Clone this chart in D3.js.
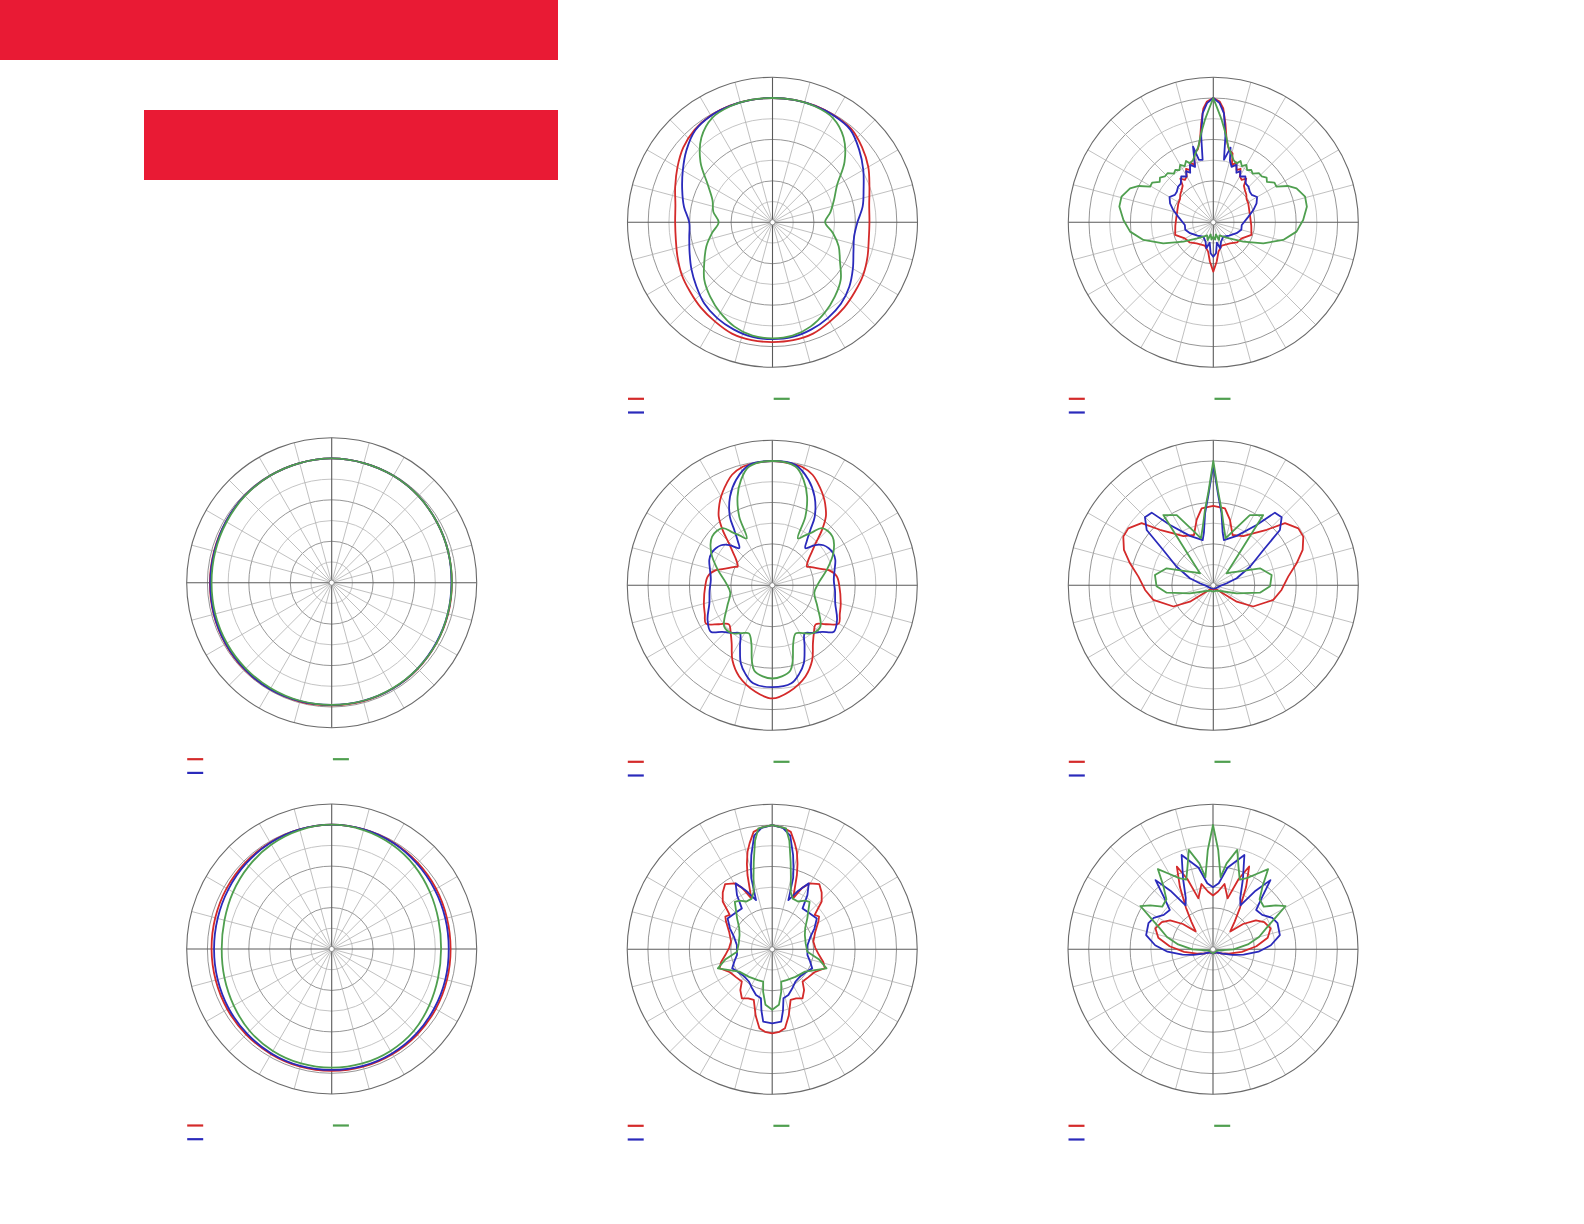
<!DOCTYPE html>
<html>
<head>
<meta charset="utf-8">
<script src="https://cdn.jsdelivr.net/npm/d3@7/dist/d3.min.js"></script>
<style>
  body { margin: 0; background: #fff; }
</style>
</head>
<body>
<div id="chart"></div>
<script>
// polar pattern values: [angle in degrees clockwise from top, level in dB]
var aRed = [[0,0],[10,0],[20,0],[30,-0.2],[40,-0.5],[50,-1.8],[60,-3.3],[70,-5.1],[80,-6.3],[90,-6.6],[100,-6.4],[110,-5.6],[120,-4.7],[130,-4.0],[140,-3.1],[150,-2.3],[160,-1.4],[170,-1.1],[180,-1.1],[190,-1.1],[200,-1.4],[210,-2.3],[220,-3.1],[230,-4.0],[240,-4.7],[250,-5.6],[260,-6.3],[270,-6.5],[280,-6.2],[290,-5.0],[300,-3.5],[310,-1.9],[320,-0.8],[330,-0.2],[340,0],[350,0]];
var aBlue = [[0,0],[10,0],[20,-0.1],[30,-0.3],[40,-0.8],[50,-2.7],[60,-4.7],[70,-6.6],[80,-7.9],[90,-9.5],[100,-10],[110,-9.2],[120,-7.6],[130,-5.8],[140,-4.3],[150,-3.3],[160,-2.5],[170,-1.9],[180,-1.8],[190,-1.9],[200,-2.5],[210,-3.3],[220,-4.4],[230,-6.0],[240,-7.4],[250,-8.7],[260,-9.6],[270,-9.9],[280,-8.3],[290,-6.8],[300,-5.0],[310,-2.9],[320,-1.0],[330,-0.3],[340,-0.1],[350,0]];
var aGreen = [[0,0],[10,0],[20,-0.2],[30,-0.9],[40,-3.3],[50,-7.3],[60,-12],[70,-14.2],[80,-15.8],[90,-17.3],[100,-15.2],[110,-13],[120,-11.2],[130,-8.5],[140,-6.6],[150,-4.8],[160,-3.2],[170,-2.2],[180,-2.0],[190,-2.2],[200,-3.2],[210,-4.8],[220,-6.6],[230,-8.5],[240,-11],[250,-13],[260,-15.2],[270,-17],[280,-15.5],[290,-14.6],[300,-12],[310,-7.3],[320,-3.3],[330,-0.9],[340,-0.2],[350,0]];

var bRed = [[0,0],[3,-0.8],[5,-2.4],[7,-6],[9.2,-9.9],[12,-12.0],[15.6,-12.7],[18,-15.5],[21,-14.5],[24,-16.2],[27,-15.5],[30,-17.2],[33.8,-17.7],[37,-16.8],[40,-18.5],[44.4,-19.1],[50,-19.6],[55,-20.2],[61.5,-20.4],[70,-20.8],[81.2,-21],[95,-20.8],[108.3,-20.3],[119.5,-22.1],[130,-22.5],[141.6,-23.5],[160,-24],[170,-22.8],[175,-20.5],[180,-18.1],
  [185,-20.5],[190,-22.8],[200,-24],[218.4,-23.5],[230,-22.5],[240.5,-22.1],[251.7,-20.3],[265,-20.8],[278.8,-21],[290,-20.8],[298.5,-20.4],[305,-20.2],[310,-19.6],[315.6,-19.1],[320,-18.5],[323,-16.8],[326.2,-17.7],[330,-17.2],[333,-15.5],[336,-16.2],[339,-14.5],[342,-15.5],[344.4,-12.7],[348,-12.0],[350.8,-9.9],[353,-6],[355,-2.4],[357,-0.8]];
var bBlue = [[0,0],[3,-1.2],[5.6,-3.6],[8,-9],[9.7,-14.7],[13,-11.5],[15,-14.5],[18.2,-15.9],[22,-15],[25,-16.8],[28,-16.0],[30.3,-17.2],[35,-16.5],[40,-17.8],[44.5,-17.9],[50,-18.5],[54.5,-18.6],[60,-17.8],[66.3,-18.6],[73,-19.9],[80.8,-21.4],[95.4,-23.1],[105,-23.0],[115,-23.8],[130,-25],[145,-25.8],[158,-25],[165,-23.5],[170,-25],[175,-22.5],[180,-21.7],
  [185,-22.5],[190,-25],[195,-23.5],[202,-25],[215,-25.8],[230,-25],[245,-23.8],[255,-23.0],[264.6,-23.1],[279.2,-21.4],[287,-19.9],[293.7,-18.6],[300,-17.8],[305.5,-18.6],[310,-18.5],[315.5,-17.9],[320,-17.8],[325,-16.5],[329.7,-17.2],[332,-16.0],[335,-16.8],[338,-15],[341.8,-15.9],[345,-11.1],[347,-14.5],[350.3,-14.7],[352,-9],[354.4,-3.6],[357,-1.2]];
var bGreen = [[0,0],[2.5,-3],[4.7,-5.2],[8,-8.5],[11.2,-11.4],[15,-13],[18,-14.2],[21.6,-14.7],[24,-13.8],[27,-14.8],[30,-14.0],[33,-15.0],[36,-14.4],[39,-14.9],[43,-13.8],[46.6,-13.9],[50,-13.2],[53,-13.8],[57,-12.4],[60.6,-12.5],[64,-10],[67.8,-8.3],[74.4,-7.0],[80.5,-7.1],[88.5,-8.3],[96.4,-9.8],[104.2,-12.6],[112.8,-16.9],[122.8,-21.4],[135,-24.5],[145,-25.8],[155,-26.5],[162,-25.5],[168,-27],[174,-25.8],[180,-26.5],
  [186,-25.8],[192,-27],[198,-25.5],[205,-26.5],[215,-25.8],[225,-24.5],[237.2,-21.4],[247.2,-16.9],[255.8,-12.6],[263.6,-9.8],[271.5,-8.3],[279.5,-7.0],[285.6,-7.0],[292.2,-8.3],[296,-10],[299.4,-12.5],[303,-12.4],[307,-13.8],[310,-13.2],[313.4,-13.9],[317,-13.8],[321,-14.9],[324,-14.4],[327,-15.0],[330,-14.0],[333,-14.8],[336,-13.8],[338.4,-14.7],[342,-14.2],[345,-13],[348.8,-11.4],[352,-8.5],[355.3,-5.2],[357.5,-3]];

var cRed = [[0,0],[15,-0.1],[30,-0.2],[45,-0.4],[60,-0.7],[75,-0.9],[90,-1.0],[105,-0.9],[120,-0.8],[135,-0.6],[150,-0.5],[165,-0.4],[180,-0.4],[195,-0.3],[210,-0.3],[225,-0.3],[240,-0.4],[255,-0.5],[270,-0.6],[285,-0.6],[300,-0.5],[315,-0.3],[330,-0.2],[345,-0.1]];
var cBlue = [[0,0],[15,-0.1],[30,-0.2],[45,-0.4],[60,-0.7],[75,-0.9],[90,-1.1],[105,-1.0],[120,-0.9],[135,-0.7],[150,-0.5],[165,-0.5],[180,-0.5],[195,-0.4],[210,-0.3],[225,-0.4],[240,-0.5],[255,-0.6],[270,-0.7],[285,-0.7],[300,-0.5],[315,-0.3],[330,-0.2],[345,-0.1]];
var cGreen = [[0,0],[15,-0.1],[30,-0.2],[45,-0.4],[60,-0.7],[75,-0.9],[90,-1.0],[105,-1.0],[120,-0.8],[135,-0.7],[150,-0.6],[165,-0.5],[180,-0.5],[195,-0.5],[210,-0.6],[225,-0.7],[240,-0.8],[255,-0.9],[270,-1.0],[285,-0.9],[300,-0.7],[315,-0.4],[330,-0.2],[345,-0.1]];

var dRed = [[0,0],[15,-0.1],[30,-0.3],[45,-0.6],[60,-0.9],[75,-1.2],[90,-1.3],[105,-1.2],[120,-1.0],[135,-0.8],[150,-0.7],[165,-0.6],[180,-0.6],[195,-0.6],[210,-0.7],[225,-0.8],[240,-0.9],[255,-1.0],[270,-1.0],[285,-0.9],[300,-0.7],[315,-0.5],[330,-0.3],[345,-0.1]];
var dBlue = [[0,0],[15,-0.1],[30,-0.4],[45,-0.9],[60,-1.3],[75,-1.6],[90,-1.75],[105,-1.6],[120,-1.4],[135,-1.1],[150,-0.9],[165,-0.8],[180,-0.8],[195,-0.8],[210,-0.9],[225,-1.1],[240,-1.3],[255,-1.5],[270,-1.6],[285,-1.5],[300,-1.2],[315,-0.8],[330,-0.4],[345,-0.1]];
var dGreen = [[0,0],[15,-0.3],[30,-0.9],[45,-1.7],[60,-2.6],[75,-3.3],[90,-3.6],[105,-3.4],[120,-2.8],[135,-2.0],[150,-1.6],[165,-1.4],[180,-1.35],[195,-1.4],[210,-1.6],[225,-2.0],[240,-2.7],[255,-3.2],[270,-3.45],[285,-3.2],[300,-2.5],[315,-1.7],[330,-0.9],[345,-0.3]];

var eRed = [[0,0],[10,-0.3],[14,-0.5],[20,-1.6],[24,-3.0],[28,-4.5],[31.5,-5.9],[35,-7.5],[38,-9.0],[42,-12.1],[46,-15.5],[50,-17.6],[55,-19.4],[61.7,-20.5],[64,-19.9],[68,-18.8],[72,-17.3],[75,-15.9],[82,-14.3],[91,-13.8],[105,-12.9],[113,-12.3],[120,-11.5],[126,-14.0],[132,-15.9],[139,-14.7],[145,-12.9],[152,-9.5],[160,-6.6],[171,-4.0],[180,-2.7],
  [189,-4.0],[200,-6.6],[208,-9.5],[215,-12.9],[221,-14.7],[228,-15.9],[234,-14.0],[240,-11.5],[247,-12.3],[255,-12.9],[269,-13.8],[278,-14.3],[285,-15.9],[288,-17.3],[292,-18.8],[296,-19.9],[298.3,-20.5],[305,-19.4],[310,-17.6],[314,-15.5],[318,-12.1],[322,-9.0],[325,-7.5],[328.5,-5.9],[332,-4.5],[336,-3.0],[340,-1.6],[346,-0.5],[350,-0.3]];
var eBlue = [[0,0],[10.8,-0.4],[19,-3.1],[25.5,-6.3],[31.7,-10.5],[34.5,-13.8],[38,-16.5],[41.7,-18.0],[46.8,-15.8],[52,-14.3],[56.7,-13.7],[62,-13.4],[68,-13.6],[76,-14.5],[85,-15.1],[95,-14.8],[106,-14.2],[118,-12.3],[127,-11.4],[133,-13.5],[140,-15.0],[146,-16.0],[152,-13.4],[158,-9.7],[163,-7.7],[169,-5.9],[180,-5.4],
  [191,-5.9],[197,-7.7],[202,-9.7],[208,-13.4],[214,-16.0],[220,-15.0],[227,-13.5],[233,-11.4],[242,-12.3],[254,-14.2],[265,-14.8],[275,-15.1],[284,-14.5],[292,-13.6],[298,-13.4],[303.3,-13.7],[308,-14.3],[313.2,-15.8],[318.3,-18.0],[322,-16.5],[325.5,-13.8],[328.3,-10.5],[334.5,-6.3],[341,-3.1],[349.2,-0.4]];
var eGreen = [[0,0],[11,-0.8],[16.6,-3.5],[21.4,-7.0],[25.7,-11.6],[28.6,-17.1],[33,-15.7],[37,-14.0],[41,-11.7],[51,-11.3],[62,-13.3],[74,-16.3],[87,-18.8],[100,-19.7],[115,-18],[130.7,-14.7],[140,-14.9],[147,-16.2],[154,-17.1],[160,-15.2],[165,-11.0],[168,-9.0],[174,-7.9],[180,-7.5],
  [186,-7.9],[192,-9.0],[195,-11.0],[200,-15.2],[206,-17.1],[213,-16.2],[220,-14.9],[229.3,-14.7],[245,-18],[260,-19.7],[273,-18.8],[286,-16.3],[298,-13.3],[309,-11.3],[319,-11.7],[323,-14.0],[327,-15.7],[331.4,-17.1],[334.3,-11.6],[338.6,-7.0],[343.4,-3.5],[349,-0.8]];

var fRed = [[0,-10.8],[8.6,-11.2],[14.3,-13.7],[21,-17],[31.3,-16.1],[37.6,-14.2],[43.9,-11.4],[49.1,-7.1],[56.2,-5.3],[61.6,-5.3],[68.4,-6.8],[75.2,-9.2],[83.4,-11.8],[93.9,-13.5],[103.7,-15.1],[118,-19.1],[125,-23.1],[133.5,-27.8],[150,-29],[180,-29],
  [210,-29],[226.5,-27.8],[235,-23.1],[242,-19.1],[256.3,-15.1],[266.1,-13.5],[276.6,-11.8],[284.8,-9.2],[291.6,-6.8],[298.4,-5.3],[303.8,-5.3],[310.9,-7.1],[316.1,-11.4],[322.4,-14.2],[328.7,-16.1],[339,-17],[345.7,-13.7],[351.4,-11.2]];
var fBlue = [[0,-1],[3,-8],[6.5,-12.5],[10,-17],[13.2,-18.8],[25.3,-16.8],[35.7,-12.1],[40.3,-7.0],[45.1,-6.7],[50.3,-9.1],[54.8,-15.2],[63,-20],[73.3,-24.1],[81.5,-26.7],[95,-28.3],[130,-29],[180,-29.2],
  [230,-29],[265,-28.3],[278.5,-26.7],[286.7,-24.1],[297,-20],[305.2,-15.2],[309.7,-9.1],[314.9,-6.7],[319.7,-7.0],[324.3,-12.1],[334.7,-16.8],[346.8,-18.8],[350,-17],[353.5,-12.5],[357,-8]];
var fGreen = [[0,0],[3,-7.4],[6.3,-11.7],[10,-15.5],[14.7,-18.3],[20,-16.1],[27.5,-10.9],[35.4,-9.2],[37,-16],[40,-21.3],[44,-24.2],[48,-25.7],[55,-24.6],[62,-22.8],[70,-18],[80,-15.7],[91,-16.3],[99,-18.6],[109,-24],[125,-27.5],[150,-28.5],[180,-28.5],
  [210,-28.5],[235,-27.5],[251,-24],[261,-18.6],[269,-16.3],[280,-15.7],[290,-18],[298,-22.8],[305,-24.6],[312,-25.7],[316,-24.2],[320,-21.3],[323,-16],[324.6,-9.2],[332.5,-10.9],[340,-16.1],[345.3,-18.3],[350,-15.5],[353.7,-11.7],[357,-7.4]];

var gRed = [[0,0],[5,-0.5],[9,-1.3],[12,-3.8],[14.2,-5.7],[16.5,-8.5],[18.4,-11.1],[22.3,-16.7],[26,-13.5],[29.6,-11.7],[35.9,-10.6],[41,-11.8],[46,-13.4],[51,-16.8],[55,-16.2],[59,-17],[68,-18.8],[79.4,-19.9],[88,-19.6],[97,-18.6],[104,-17.3],[109.8,-16.5],[118.5,-18.4],[128,-19.0],[136.7,-19.3],[142,-17.5],[148.2,-16.1],[154,-16.8],[160,-17],[166,-13.5],[170.8,-10.7],[175,-10.0],[180,-9.7],
  [185,-10.0],[189.2,-10.7],[194,-13.5],[200,-17],[206,-16.8],[211.8,-16.1],[218,-17.5],[223.3,-19.3],[232,-19.0],[241.5,-18.4],[250.2,-16.5],[256,-17.3],[263,-18.6],[272,-19.6],[280.6,-19.9],[292,-18.8],[301,-17],[305,-16.2],[309,-16.8],[314,-13.4],[319,-11.8],[324.1,-10.6],[330.4,-11.7],[334,-13.5],[337.7,-16.7],[341.6,-11.1],[343.5,-8.5],[345.8,-5.7],[348,-3.8],[351,-1.3],[355,-0.5]];
var gBlue = [[0,0],[5,-0.6],[9,-2.2],[12.5,-6.7],[14.5,-9.5],[16.4,-12.1],[18.2,-17.5],[24,-14.5],[29,-11.8],[33,-14.4],[36.6,-17.7],[45,-17.5],[55.3,-16.9],[63.6,-18.6],[72,-20.3],[83,-21.4],[99,-21.4],[107,-20.5],[115.5,-19.3],[125,-20.2],[135,-20.6],[144,-20.4],[152,-19.5],[160.5,-18.3],[167,-17.9],[170,-15],[172.9,-12.4],[180,-12.1],
  [187.1,-12.4],[190,-15],[193,-17.9],[199.5,-18.3],[208,-19.5],[216,-20.4],[225,-20.6],[235,-20.2],[244.5,-19.3],[253,-20.5],[261,-21.4],[277,-21.4],[288,-20.3],[296.4,-18.6],[304.7,-16.9],[315,-17.5],[323.4,-17.7],[327,-14.4],[331,-11.8],[336,-14.5],[341.8,-17.5],[343.6,-12.1],[345.5,-9.5],[347.5,-6.7],[351,-2.2],[355,-0.6]];
var gGreen = [[0,0],[6.5,-0.6],[9,-3.5],[11.9,-8.4],[14.5,-12],[17.8,-15.4],[22,-16.8],[28.3,-16.9],[34,-15.8],[38.2,-15.4],[43,-17.2],[48.6,-18.7],[57,-20.5],[66.4,-21.4],[80,-21.8],[93.8,-21.5],[102,-18.5],[109.3,-16.1],[116,-18.5],[124.2,-20.4],[140,-21.3],[155,-21.8],[164.4,-21.9],[168,-19.5],[173.1,-16.5],[180,-15.4],
  [186.9,-16.5],[192,-19.5],[195.6,-21.9],[205,-21.8],[220,-21.3],[235.8,-20.4],[244,-18.5],[250.7,-16.1],[258,-18.5],[266.2,-21.5],[280,-21.8],[293.6,-21.4],[303,-20.5],[311.4,-18.7],[317,-17.2],[321.8,-15.4],[326,-15.8],[331.7,-16.9],[338,-16.8],[342.2,-15.4],[345.5,-12],[348.1,-8.4],[351,-3.5],[353.5,-0.6]];

var hRed = [[0,-17],[5,-16],[10,-14],[16,-17.2],[20,-12],[23.6,-8.2],[28,-13],[33,-18],[38,-21.5],[44,-24],[50,-20.5],[56,-17.5],[62,-16],[70,-15.2],[78,-16.5],[86,-19.5],[95,-23],[105,-26],[115,-27.5],[130,-28.8],[180,-29],
  [230,-28.8],[245,-27.5],[255,-26],[265,-23],[274,-19.5],[282,-16.5],[290,-15.2],[298,-16],[304,-17.5],[310,-20.5],[316,-24],[322,-21.5],[327,-18],[332,-13],[336.4,-8.2],[340,-12],[344,-17.2],[350,-14],[355,-16]];
var hBlue = [[0,-15],[5,-14],[10,-10],[18.4,-6.0],[23,-11.5],[28,-16],[32,-17.5],[36,-12.5],[39.7,-8.3],[43,-12.5],[47.7,-15.9],[55,-15.5],[62,-13.8],[68,-13.2],[78,-13.5],[86,-16],[93,-19],[100,-22.5],[106,-25.1],[115,-27.5],[130,-28.8],[180,-29],
  [230,-28.8],[245,-27.5],[254,-25.1],[260,-22.5],[267,-19],[274,-16],[282,-13.5],[292,-13.2],[298,-13.8],[305,-15.5],[312.3,-15.9],[317,-12.5],[320.3,-8.3],[324,-12.5],[328,-17.5],[332,-16],[337,-11.5],[341.6,-6.0],[350,-10],[355,-14]];
var hGreen = [[0,0],[3,-6],[6,-12.5],[9,-9],[13.7,-5.3],[17,-9],[21,-12],[25.4,-11],[30,-9],[34.5,-6.5],[38,-10.5],[43,-13.5],[50,-14],[55,-11.5],[59.2,-9.6],[63,-13],[68,-16],[75,-18.5],[82,-21.5],[90,-25],[95,-27.5],[110,-29],[180,-29],
  [250,-29],[265,-27.5],[270,-25],[278,-21.5],[285,-18.5],[292,-16],[297,-13],[300.8,-9.6],[305,-11.5],[310,-14],[317,-13.5],[322,-10.5],[325.5,-6.5],[330,-9],[334.6,-11],[339,-12],[343,-9],[346.3,-5.3],[351,-9],[354,-12.5],[357,-6]];

// grid levels (dB) and spoke angles
var ringLevels = [-25, -20, -15, -10, -5, 0];
var darkLevels = [-20, -10, 0];
var spokeAngles = d3.range(0, 360, 15);
var seriesColors = ["#d42a2a", "#2a2abb", "#4f9f4f"];

// svg size
var svgWidth = 1584;
var svgHeight = 1224;
var outerR = 145;

var svg = d3.select("#chart").append("svg")
    .attr("width", svgWidth)
    .attr("height", svgHeight);

// red header blocks
svg.append("rect").attr("x", 0).attr("y", 0).attr("width", 558).attr("height", 60).attr("fill", "#e91a34");
svg.append("rect").attr("x", 144).attr("y", 110).attr("width", 414).attr("height", 70).attr("fill", "#e91a34");

// panels: center and whether the trace is smooth
var panels = [
  {cx: 772.5,  cy: 222.3, smooth: true,  series: [aRed, aBlue, aGreen]},
  {cx: 1213.3, cy: 222.3, smooth: false, series: [bRed, bBlue, bGreen]},
  {cx: 331.7,  cy: 582.7, smooth: true,  series: [cRed, cBlue, cGreen]},
  {cx: 772.3,  cy: 585.3, smooth: true,  series: [eRed, eBlue, eGreen]},
  {cx: 1213.3, cy: 585.3, smooth: false, series: [fRed, fBlue, fGreen]},
  {cx: 331.7,  cy: 949,   smooth: true,  series: [dRed, dBlue, dGreen]},
  {cx: 772.2,  cy: 949.3, smooth: false, series: [gRed, gBlue, gGreen]},
  {cx: 1213,   cy: 949.3, smooth: false, series: [hRed, hBlue, hGreen]}
];

// radius scale: center = -30 dB, outer ring = +5 dB
var rScale = d3.scaleLinear().domain([-30, 5]).range([0, outerR]).clamp(true);

panels.forEach(function(p) {
  var g = svg.append("g").attr("transform", `translate(${p.cx}, ${p.cy})`);

  // rings
  g.selectAll("circle.ring")
    .data(ringLevels)
    .enter()
    .append("circle")
    .classed("ring", true)
    .attr("r", d => rScale(d))
    .attr("fill", "none")
    .attr("stroke", d => darkLevels.indexOf(d) >= 0 ? "#8a8a8a" : "#bdbdbd")
    .attr("stroke-width", 0.9);

  // spokes
  g.selectAll("line.spoke")
    .data(spokeAngles)
    .enter()
    .append("line")
    .classed("spoke", true)
    .attr("x1", 0).attr("y1", 0)
    .attr("x2", d => outerR * Math.sin(d * Math.PI / 180))
    .attr("y2", d => -outerR * Math.cos(d * Math.PI / 180))
    .attr("stroke", d => d % 90 === 0 ? "#5a5a5a" : "#b0b0b0")
    .attr("stroke-width", d => d % 90 === 0 ? 1.1 : 0.8);

  // outer circle
  g.append("circle")
    .attr("r", rScale(5))
    .attr("fill", "none")
    .attr("stroke", "#6a6a6a")
    .attr("stroke-width", 1.1);

  // traces
  var line = d3.lineRadial()
    .angle(d => d[0] * Math.PI / 180)
    .radius(d => rScale(d[1]))
    .curve(p.smooth ? d3.curveCatmullRomClosed.alpha(0.5) : d3.curveLinearClosed);

  g.selectAll("path.trace")
    .data(p.series)
    .enter()
    .append("path")
    .classed("trace", true)
    .attr("d", line)
    .attr("fill", "none")
    .attr("stroke", (d, i) => seriesColors[i])
    .attr("stroke-width", 1.8)
    .attr("stroke-linejoin", "round");

  // center dot
  g.append("circle")
    .attr("r", 2.6)
    .attr("fill", "#fff")
    .attr("stroke", "#777")
    .attr("stroke-width", 0.8);

  // legend swatches
  var leg = [
    {x: -144.5, y: 176.5, c: seriesColors[0]},
    {x: -144.5, y: 190.2, c: seriesColors[1]},
    {x: 1.2,    y: 176.5, c: seriesColors[2]}
  ];
  g.selectAll("line.legend")
    .data(leg)
    .enter()
    .append("line")
    .classed("legend", true)
    .attr("x1", d => d.x).attr("x2", d => d.x + 16)
    .attr("y1", d => d.y).attr("y2", d => d.y)
    .attr("stroke", d => d.c)
    .attr("stroke-width", 2.2);
});
</script>
</body>
</html>
